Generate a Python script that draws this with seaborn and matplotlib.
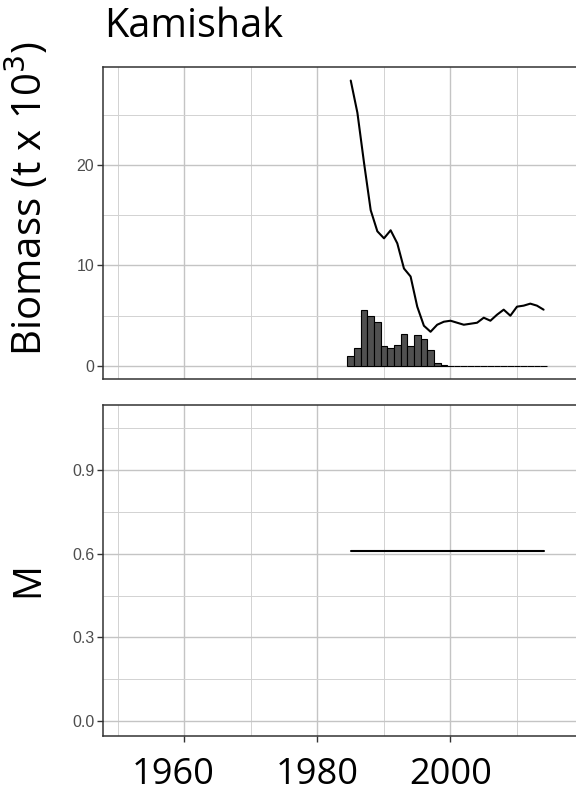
import matplotlib
matplotlib.use("Agg")
import matplotlib.pyplot as plt
import matplotlib.transforms as mtransforms
import seaborn as sns
import pandas as pd
from matplotlib.ticker import FixedLocator

# ---- data ----
years = [1985, 1986, 1987, 1988, 1989, 1990, 1991, 1992, 1993, 1994,
         1995, 1996, 1997, 1998, 1999, 2000, 2001, 2002, 2003, 2004,
         2005, 2006, 2007, 2008, 2009, 2010, 2011, 2012, 2013, 2014]
biomass = [28.4, 25.2, 20.2, 15.5, 13.4, 12.7, 13.5, 12.2, 9.7, 8.9,
           5.9, 4.0, 3.4, 4.1, 4.4, 4.5, 4.3, 4.1, 4.2, 4.3,
           4.8, 4.5, 5.1, 5.6, 5.0, 5.9, 6.0, 6.2, 6.0, 5.6]
catch = [1.0, 1.77, 5.57, 5.0, 4.33, 2.03, 1.83, 2.07, 3.2, 1.97,
         3.03, 2.7, 1.57, 0.3, 0.13, 0.0, 0.0, 0.0, 0.0, 0.0,
         0.0, 0.0, 0.0, 0.0, 0.0, 0.0, 0.0, 0.0, 0.0, 0.0]
mort = [0.61, 0.61, 0.61, 0.61, 0.61, 0.61, 0.61, 0.61, 0.61, 0.61,
        0.61, 0.61, 0.61, 0.61, 0.61, 0.61, 0.61, 0.61, 0.61, 0.61,
        0.61, 0.61, 0.61, 0.61, 0.61, 0.61, 0.61, 0.61, 0.61, 0.61]
x_major = [1960, 1980, 2000]
x_minor = [1950, 1970, 1990, 2010]
bio_ticks = [0, 10, 20]
bio_minor = [5, 15, 25]
m_ticks = [0.0, 0.3, 0.6, 0.9]
m_tick_labels = ["0.0", "0.3", "0.6", "0.9"]
m_minor = [0.15, 0.45, 0.75, 1.05]
title = "Kamishak"

df = pd.DataFrame({"year": years, "biomass": biomass, "catch": catch, "M": mort})

sns.set_style("white")
big_font = ["Open Sans", "DejaVu Sans"]
tick_font = ["Liberation Sans", "DejaVu Sans"]

fig = plt.figure(figsize=(5.76, 7.96), dpi=100)
W, H = 576, 796
xlim = (1947.7, 2025.0)
pxyr = 6.65
ax_w = (xlim[1] - xlim[0]) * pxyr / W
left_px = 102.7

def px_axes(top, bottom):
    return [left_px / W, (H - bottom) / H, ax_w, (bottom - top) / H]

ax1 = fig.add_axes(px_axes(67, 379))
ax2 = fig.add_axes(px_axes(405.3, 736))

# top panel: catch bars + biomass line
sns.histplot(data=df, x="year", weights="catch", discrete=True, ax=ax1,
             color="#505050", edgecolor="black", linewidth=0.8, alpha=1.0)
sns.lineplot(data=df, x="year", y="biomass", ax=ax1, color="black", linewidth=1.5)
ax1.set_ylim(-1.3, 29.75)
ax1.yaxis.set_major_locator(FixedLocator(bio_ticks))
ax1.yaxis.set_minor_locator(FixedLocator(bio_minor))

# bottom panel: natural mortality
sns.lineplot(data=df, x="year", y="M", ax=ax2, color="black", linewidth=1.5)
ax2.set_ylim(-0.0526, 1.131)
ax2.yaxis.set_major_locator(FixedLocator(m_ticks))
ax2.yaxis.set_minor_locator(FixedLocator(m_minor))
ax2.set_yticklabels(m_tick_labels)

for ax in (ax1, ax2):
    ax.set_xlim(*xlim)
    ax.xaxis.set_major_locator(FixedLocator(x_major))
    ax.xaxis.set_minor_locator(FixedLocator(x_minor))
    ax.grid(True, which="major", color="#c4c4c4", linewidth=1.0)
    ax.grid(True, which="minor", color="#d2d2d2", linewidth=0.7)
    ax.set_axisbelow(True)
    for s in ax.spines.values():
        s.set_color("#333333")
        s.set_linewidth(1.1)
    ax.tick_params(axis="y", which="major", left=True, length=4, width=1.0,
                   color="#333333", labelcolor="#4d4d4d", labelsize=11.5, pad=2)
    ax.tick_params(axis="both", which="minor", length=0)
    for lab in ax.get_yticklabels():
        lab.set_fontfamily(tick_font)
    ax.set_xlabel("")

ax1.tick_params(axis="x", which="major", bottom=False, labelbottom=False)
ax2.tick_params(axis="x", which="major", bottom=True, length=4, width=1.0,
                color="#333333", labelcolor="black", labelsize=26, pad=11)
xlabels = ax2.get_xticklabels()
for lab in xlabels:
    lab.set_fontfamily(big_font)
# the first year label sits slightly left of its tick in the reference
xlabels[0].set_transform(xlabels[0].get_transform() +
                         mtransforms.ScaledTranslation(-11 / 100, 0, fig.dpi_scale_trans))

ax1.set_ylabel("Biomass (t x 10$^3$)", fontsize=29, fontfamily=big_font, color="black")
ax1.yaxis.set_label_coords((28 - left_px) / (ax_w * W), (379 - 199) / (379 - 67))
ax2.set_ylabel("M", fontsize=28, fontfamily=big_font, color="black")
ax2.yaxis.set_label_coords((28 - left_px) / (ax_w * W), (736 - 580) / (736 - 405.3))
ax1.yaxis.label.set_va("center")
ax2.yaxis.label.set_va("center")

fig.text(104 / W, 1 - 37 / H, title, fontsize=28.5, fontfamily=big_font,
         ha="left", va="baseline", color="black")

fig.savefig("out.png", dpi=100)
